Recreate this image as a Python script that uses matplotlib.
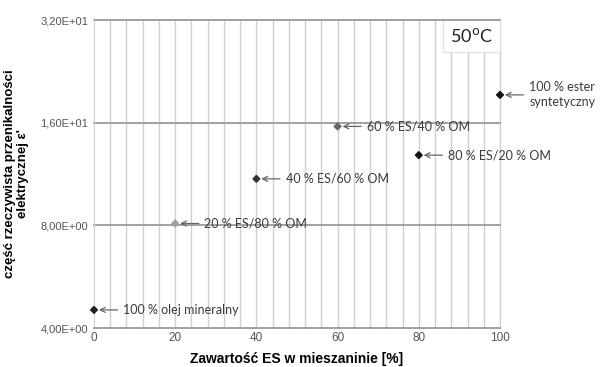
import numpy as np
import matplotlib.pyplot as plt
from matplotlib.patches import Rectangle
from matplotlib.ticker import FixedLocator, FixedFormatter

# udział estru syntetycznego w mieszaninie [%] i przenikalność
es_content = [0, 20, 40, 60, 80, 100]
permittivity = [4.52, 8.1, 10.95, 15.6, 12.85, 19.3]
point_colors = ['#222222', '#a0a0a0', '#333333', '#666666', '#111111', '#111111']
point_labels = ['100 % olej mineralny', '20 % ES/80 % OM', '40 % ES/60 % OM',
                '60 % ES/40 % OM', '80 % ES/20 % OM', '100 % ester\nsyntetyczny']

y_ticks = [4, 8, 16, 32]
y_tick_labels = ['4,00E+00', '8,00E+00', '1,60E+01', '3,20E+01']
x_ticks = [0, 20, 40, 60, 80, 100]

fig = plt.figure(figsize=(6.02, 3.67), dpi=100)
ax = fig.add_axes([94 / 602, 1 - 328 / 367, 406 / 602, 308 / 367])

ax.set_yscale('log', base=2)
ax.set_ylim(4, 32)
ax.set_xlim(0, 100)

# siatka: pionowa co 4 %, pozioma na oktawach
for xv in np.arange(4, 101, 4):
    ax.axvline(xv, color='#d0d0d0', lw=1.0, zorder=0, clip_on=False)
for yv in y_ticks[1:]:
    ax.axhline(yv, color='#9a9a9a', lw=1.3, zorder=2.5 if yv == 32 else 0,
               clip_on=False)

for s in ['top', 'right']:
    ax.spines[s].set_visible(False)
ax.spines['left'].set_color('#d0d0d0')
ax.spines['bottom'].set_color('#9a9a9a')
ax.spines['bottom'].set_linewidth(1.3)

ax.yaxis.set_major_locator(FixedLocator(y_ticks))
ax.yaxis.set_major_formatter(FixedFormatter(y_tick_labels))
ax.yaxis.set_minor_locator(FixedLocator([]))
ax.xaxis.set_major_locator(FixedLocator(x_ticks))
ax.tick_params(axis='both', length=0, labelsize=8, labelcolor='#555555',
               labelfontfamily='Liberation Sans')
ax.tick_params(axis='x', labelsize=8.5)
ax.tick_params(axis='y', pad=4)
ax.tick_params(axis='x', pad=3)

ax.scatter(es_content, permittivity, marker='D', s=12, c=point_colors, zorder=3,
           clip_on=False)

for x, y, lab in zip(es_content, permittivity, point_labels):
    ax.annotate(lab, xy=(x, y), xytext=(21, 0), textcoords='offset points',
                ha='left', va='center', fontsize=9, family='Lato', color='#3a3a3a',
                linespacing=1.3,
                arrowprops=dict(arrowstyle='->,head_length=0.4,head_width=0.2',
                                color='#666666', lw=0.9, shrinkA=2, shrinkB=3.5),
                annotation_clip=False, zorder=4)

# ramka z temperaturą w prawym górnym rogu
ax.add_patch(Rectangle((0.86, 0.895), 0.14, 0.105, transform=ax.transAxes,
                       fc='white', ec='#e2e2e2', lw=1, zorder=2, clip_on=False))
ax.text(0.93, 0.9475, '50$^{\\rm o}$C', transform=ax.transAxes, ha='center',
        va='center', fontsize=13, family='Lato', color='#222222', zorder=3)

ax.set_xlabel('Zawartość ES w mieszaninie [%]', fontsize=10, fontweight='bold',
              family='Liberation Sans', labelpad=6)
ax.set_ylabel("część rzeczywista przenikalności\nelektrycznej ε'", fontsize=9.5,
              fontweight='bold', family='Liberation Sans', labelpad=8)

fig.savefig('out.png', dpi=100)
